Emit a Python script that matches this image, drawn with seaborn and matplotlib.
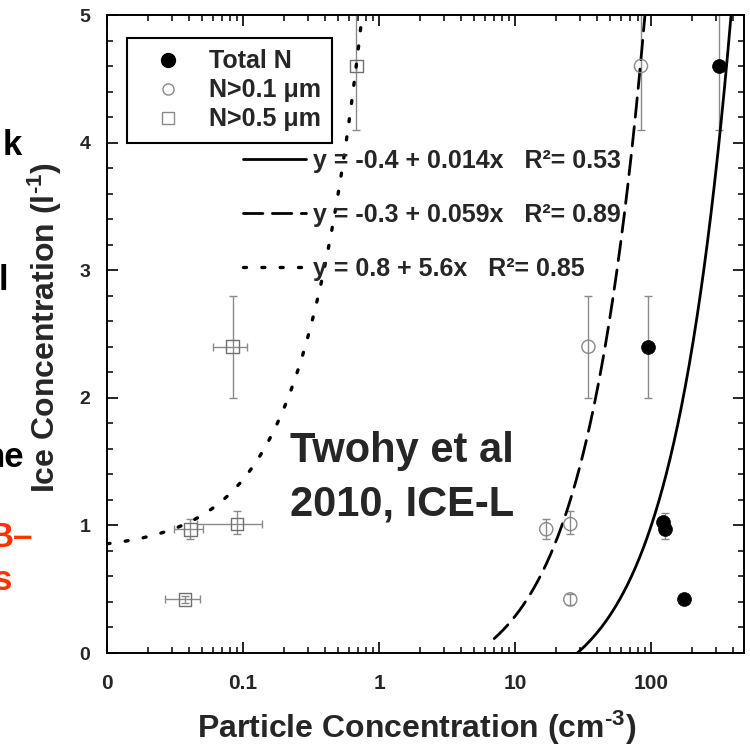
import numpy as np
import matplotlib
matplotlib.use("Agg")
import matplotlib.pyplot as plt
from matplotlib.lines import Line2D
from matplotlib.ticker import FixedLocator, NullFormatter, MultipleLocator, LogLocator
import seaborn as sns

# Total particle number concentration (cm-3) vs. ice concentration (l-1)
total_x = [316, 95, 122, 127, 175]
total_y = [4.6, 2.4, 1.03, 0.97, 0.42]
total_err_lo = [0.5, 0.4, 0.0, 0.08, 0.0]
total_err_hi = [0.5, 0.4, 0.0, 0.13, 0.0]

# Particles larger than 0.1 um
n01_x = [84, 34.5, 16.9, 25.4, 25.4]
n01_y = [4.6, 2.4, 0.97, 1.01, 0.42]
n01_err_lo = [0.5, 0.4, 0.08, 0.08, 0.04]
n01_err_hi = [0.5, 0.4, 0.08, 0.10, 0.04]

# Particles larger than 0.5 um
n05_x = [0.68, 0.084, 0.041, 0.090, 0.0375]
n05_y = [4.6, 2.4, 0.97, 1.01, 0.42]
n05_err_lo = [0.5, 0.4, 0.08, 0.08, 0.03]
n05_err_hi = [0.5, 0.4, 0.08, 0.10, 0.03]
n05_xerr_lo = [0.0, 0.024, 0.010, 0.044, 0.011]
n05_xerr_hi = [0.0, 0.023, 0.010, 0.048, 0.011]

# Linear fits y = a + b*x
fit_intercept = [-0.4, -0.3, 0.8]
fit_slope = [0.014, 0.059, 5.6]
fit_r2 = [0.53, 0.89, 0.85]
fit_xstart = [0.01, 7.0, 0.01]

x_tick_values = [0.01, 0.1, 1, 10, 100]
x_tick_labels = ["0", "0.1", "1", "10", "100"]
y_tick_values = [0, 1, 2, 3, 4, 5]

sns.set_theme(style="ticks")
plt.rcParams["font.family"] = ["Liberation Sans", "DejaVu Sans"]
plt.rcParams["font.weight"] = "bold"
plt.rcParams["mathtext.fontset"] = "custom"
plt.rcParams["mathtext.rm"] = "Liberation Sans:bold"
plt.rcParams["mathtext.bf"] = "Liberation Sans:bold"
plt.rcParams["mathtext.it"] = "Liberation Sans:bold"

fig = plt.figure(figsize=(7.5, 7.5), dpi=100)
ax = fig.add_axes([107 / 750, 1 - 653 / 750, (744 - 107) / 750, (653 - 15) / 750])

XMIN, XMAX = 0.01, 480
grey = "#8a8a8a"

# error bars
ax.errorbar(total_x, total_y, yerr=[total_err_lo, total_err_hi], fmt="none",
            ecolor=grey, elinewidth=1.0, capsize=2.8, capthick=1.0, zorder=2)
ax.errorbar(n01_x, n01_y, yerr=[n01_err_lo, n01_err_hi], fmt="none",
            ecolor=grey, elinewidth=1.0, capsize=2.8, capthick=1.0, zorder=2)
ax.errorbar(n05_x, n05_y, yerr=[n05_err_lo, n05_err_hi],
            xerr=[n05_xerr_lo, n05_xerr_hi], fmt="none",
            ecolor=grey, elinewidth=1.0, capsize=2.8, capthick=1.0, zorder=2)

# fit curves
styles = ["-", (0, (7.0, 3.4)), (0, (0.9, 4.6))]
widths = [2.0, 2.0, 2.4]
for a, b, x0, ls, w in zip(fit_intercept, fit_slope, fit_xstart, styles, widths):
    xs = np.geomspace(x0, XMAX, 1500)
    ys = a + b * xs
    keep = ys < 6
    sns.lineplot(x=xs[keep], y=ys[keep], ax=ax, color="black", lw=w,
                 linestyle=ls, sort=False, estimator=None,
                 dash_capstyle="round", solid_capstyle="butt", zorder=3)

# data points
sns.scatterplot(x=total_x, y=total_y, ax=ax, marker="o", s=100,
                color="black", edgecolor="black", linewidth=0.5, zorder=4)
sns.scatterplot(x=n01_x, y=n01_y, ax=ax, marker="o", s=90,
                facecolor="none", edgecolor=grey, linewidth=1.0, zorder=4)
sns.scatterplot(x=n05_x, y=n05_y, ax=ax, marker="s", s=82,
                facecolor="none", edgecolor="#707070", linewidth=1.0, zorder=4)

ax.set_xscale("log")
ax.set_xlim(XMIN, XMAX)
ax.set_ylim(0, 5)

ax.xaxis.set_major_locator(FixedLocator(x_tick_values))
ax.set_xticklabels(x_tick_labels)
ax.xaxis.set_minor_locator(LogLocator(base=10, subs=np.arange(2, 10)))
ax.xaxis.set_minor_formatter(NullFormatter())
ax.set_yticks(y_tick_values)
ax.yaxis.set_minor_locator(MultipleLocator(0.2))

for side in ["left", "right", "top", "bottom"]:
    ax.spines[side].set_visible(True)
    ax.spines[side].set_linewidth(1.4)
    ax.spines[side].set_color("black")

ax.tick_params(which="both", direction="in", top=True, right=True, color="black")
ax.tick_params(which="major", length=8, width=1.2)
ax.tick_params(which="minor", length=4.5, width=1.1)
ax.tick_params(axis="x", which="major", labelsize=15, pad=15)
ax.tick_params(axis="y", which="major", labelsize=14, pad=12)
for lab in ax.get_xticklabels() + ax.get_yticklabels():
    lab.set_fontweight("bold")

ax.set_xlabel("Particle Concentration (cm$^{\u20103}$)", fontsize=23, fontweight="bold")
ax.set_ylabel("Ice Concentration (l$^{\u20101}$)", fontsize=23, fontweight="bold")
ax.xaxis.set_label_coords(0.486, -0.088)
ax.yaxis.set_label_coords(-0.068, 0.51)

# marker legend
marker_handles = [
    Line2D([], [], linestyle="none", marker="o", markersize=10,
           markerfacecolor="black", markeredgecolor="black"),
    Line2D([], [], linestyle="none", marker="o", markersize=8,
           markerfacecolor="none", markeredgecolor=grey, markeredgewidth=1.0),
    Line2D([], [], linestyle="none", marker="s", markersize=8,
           markerfacecolor="none", markeredgecolor=grey, markeredgewidth=1.0),
]
leg1 = ax.legend(marker_handles, ["Total N", "N>0.1 \u03bcm", "N>0.5 \u03bcm"],
                 loc="upper left", bbox_to_anchor=(127 / 750, 1 - 38 / 750),
                 bbox_transform=fig.transFigure, borderaxespad=0,
                 frameon=True, fancybox=False, edgecolor="black",
                 handlelength=2.4, handletextpad=0.42,
                 labelspacing=0.2, borderpad=0.45,
                 prop={"weight": "bold", "size": 18})
leg1.get_frame().set_linewidth(1.5)
leg1.get_frame().set_alpha(1)
ax.add_artist(leg1)

# fit equation legend
fit_handles = [Line2D([], [], color="black", lw=w, linestyle=ls,
                      dash_capstyle="round") for ls, w in zip(styles, widths)]
fit_labels = [f"y = {a:g} + {b:g}x   R\u00b2= {r:.2f}"
              for a, b, r in zip(fit_intercept, fit_slope, fit_r2)]
leg2 = ax.legend(fit_handles, fit_labels, loc="upper left",
                 bbox_to_anchor=(243 / 750, 1 - 149 / 750),
                 bbox_transform=fig.transFigure, borderaxespad=0,
                 frameon=False, handlelength=2.5, handletextpad=0.3,
                 labelspacing=1.2, borderpad=0,
                 prop={"weight": "bold", "size": 18})

fig.text(290 / 750, 1 - 431 / 750, "Twohy et al\n2010, ICE-L", fontsize=30,
         fontweight="bold", ha="left", va="top", linespacing=1.42)

# text from the neighbouring slide column
side_words = [("k", 22, 155, "black"), ("l", 8, 290, "black"),
              ("ne", 24, 467, "black"), ("B\u2013", 33, 547, "#ff3300"),
              ("s", 12, 590, "#ff3300")]
for word, xr, yb, col in side_words:
    fig.text(xr / 750, 1 - yb / 750, word, fontsize=25, fontweight="bold",
             color=col, ha="right", va="baseline")

fig.savefig("out.png", dpi=100)
